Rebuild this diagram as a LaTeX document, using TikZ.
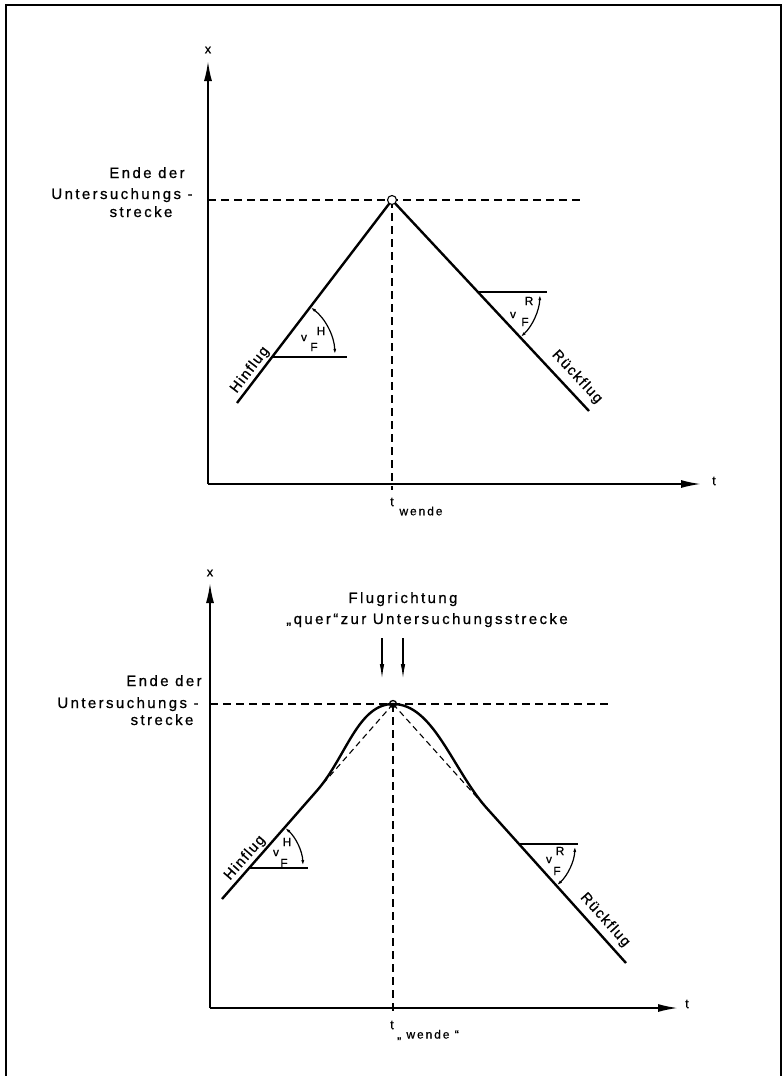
\documentclass[tikz,border=0pt]{standalone}
\usepackage{fontspec}
\setmainfont{Liberation Sans}
\newfontfamily\lfont[LetterSpace=16,FakeBold=0.8]{Liberation Sans}
\newfontfamily\rfont[LetterSpace=10,FakeBold=0.8]{Liberation Sans}
\usetikzlibrary{arrows.meta,calc}
\begin{document}
\begin{tikzpicture}[x=1pt,y=-1pt,
  traj/.style={line width=2.4pt},
  axis/.style={line width=1.8pt,-{Latex[length=20pt,width=8pt]}},
  dsh/.style={line width=1.1pt,dash pattern=on 8pt off 5pt},
  dshs/.style={line width=1.1pt,dash pattern=on 6pt off 4pt},
  ang/.style={line width=1.2pt},
  angarr/.style={line width=1.2pt,{Latex[length=6pt,width=3pt]}-{Latex[length=6pt,width=3pt]}},
  downarr/.style={line width=1.3pt,-{Latex[length=15pt,width=4.5pt]}},
  lbl/.style={font=\lfont\fontsize{15}{17}\selectfont,inner sep=0pt},
  rot/.style={font=\rfont\fontsize{14.5}{16}\selectfont,inner sep=0pt},
  sml/.style={font=\lfont\fontsize{12}{14}\selectfont,inner sep=0pt},
  axl/.style={font=\lfont\fontsize{13}{15}\selectfont,inner sep=0pt}]
\useasboundingbox (0,0) rectangle (783,1076);
% frame
\draw[line width=1.4pt] (6,1076) -- (6,5) -- (781,5) -- (781,1076);

% ===== top diagram =====
\coordinate (O1) at (208,484);
\coordinate (Y1) at (208,61);
\coordinate (X1) at (701,484);
\coordinate (P1) at (392,200);
\coordinate (A1) at (237,403);
\coordinate (B1) at (589,411);
\coordinate (V1) at (272,357);
\coordinate (H1) at (347,357);
\coordinate (V2) at (478,292);
\coordinate (H2) at (547,292);
\coordinate (DL1) at (208,200);
\coordinate (DR1) at (580,200);
\coordinate (DB1) at (392,490);

\draw[axis] (O1) -- (Y1);
\draw[axis] (O1) -- (X1);
\draw[dsh] (DL1) -- (DR1);
\draw[dsh] (P1) -- (DB1);
\draw[traj] (A1) -- (P1) -- (B1);
\draw[line width=1.1pt,fill=white] (P1) circle[radius=4.5];
\draw[ang] (V1) -- (H1);
\draw[angarr] ($(V1)+(-52.6:63)$) arc[start angle=-52.6,end angle=-2,radius=63];
\draw[ang] (V2) -- (H2);
\draw[angarr] ($(V2)+(2:62)$) arc[start angle=2,end angle=47,radius=62];

\node[axl] (xl1) at (208,50) {x};
\node[axl] (tl1) at (714,481) {t};
\node[lbl,anchor=base] (e1a) at (147,178) {Ende der};
\node[lbl,anchor=base] (e1b) at (122,199) {Untersuchungs -};
\node[lbl,anchor=base] (e1c) at (141,217) {strecke};
\node[axl] (tw1) at (392,502) {t};
\node[sml] (tw1b) at (421,511) {wende};
\node[rot,rotate=52.6] (hin1) at (250,370) {Hinflug};
\node[rot,rotate=-47] (rue1) at (577,377) {Rückflug};
\node[sml] (v1) at (304,338) {v};
\node[sml] (h1) at (321,331) {H};
\node[sml] (f1) at (314,347) {F};
\node[sml] (v2) at (513,315) {v};
\node[sml] (r2) at (529,301) {R};
\node[sml] (f2) at (525,322) {F};

% ===== bottom diagram =====
\coordinate (O2) at (210,1008);
\coordinate (Y2) at (210,583);
\coordinate (X2) at (678,1008);
\coordinate (P2) at (393,704);
\coordinate (A2) at (222,899);
\coordinate (J1) at (317.5,790);
\coordinate (J2) at (485.7,807);
\coordinate (B2) at (626,963);
\coordinate (V3) at (249,868);
\coordinate (H3) at (308,868);
\coordinate (V4) at (519,844);
\coordinate (H4) at (578,844);
\coordinate (DL2) at (210,704);
\coordinate (DR2) at (611,704);
\coordinate (DB2) at (393,1013);
\coordinate (AS1) at (382,638);
\coordinate (AE1) at (382,679);
\coordinate (AS2) at (403,638);
\coordinate (AE2) at (403,679);

\draw[axis] (O2) -- (Y2);
\draw[axis] (O2) -- (X2);
\draw[dsh] (DL2) -- (DR2);
\draw[dsh] (P2) -- (DB2);
\draw[dshs] (P2) -- (J1);
\draw[dshs] (P2) -- (J2);
\draw[traj] (A2) -- (J1) .. controls (346,757) and (358,704) .. (P2)
  .. controls (433,704) and (452,768) .. (J2) -- (B2);
\draw[line width=1.3pt] (P2) circle[radius=3.5];
\draw[downarr] (AS1) -- (AE1);
\draw[downarr] (AS2) -- (AE2);
\draw[ang] (V3) -- (H3);
\draw[angarr] ($(V3)+(-48.7:54)$) arc[start angle=-48.7,end angle=-2,radius=54];
\draw[ang] (V4) -- (H4);
\draw[angarr] ($(V4)+(2:56)$) arc[start angle=2,end angle=48,radius=56];

\node[axl] (xl2) at (210,573) {x};
\node[axl] (tl2) at (687,1004) {t};
\node[lbl,anchor=base] (fr) at (403,603) {Flugrichtung};
\node[lbl,anchor=base] (qu) at (427,624) {„quer“zur Untersuchungsstrecke};
\node[lbl,anchor=base] (e2a) at (164,686) {Ende der};
\node[lbl,anchor=base] (e2b) at (128,708) {Untersuchungs -};
\node[lbl,anchor=base] (e2c) at (162,725) {strecke};
\node[axl] (tw2) at (392,1025) {t};
\node[sml] (tw2b) at (428,1035) {„ wende “};
\node[rot,rotate=48.7] (hin2) at (245,858) {Hinflug};
\node[rot,rotate=-48] (rue2) at (605,920) {Rückflug};
\node[sml] (v3) at (276,853) {v};
\node[sml] (h3) at (287,842) {H};
\node[sml] (f3) at (284,863) {F};
\node[sml] (v4) at (549,860) {v};
\node[sml] (r4) at (560,851) {R};
\node[sml] (f4) at (557,871) {F};
\end{tikzpicture}
\end{document}
